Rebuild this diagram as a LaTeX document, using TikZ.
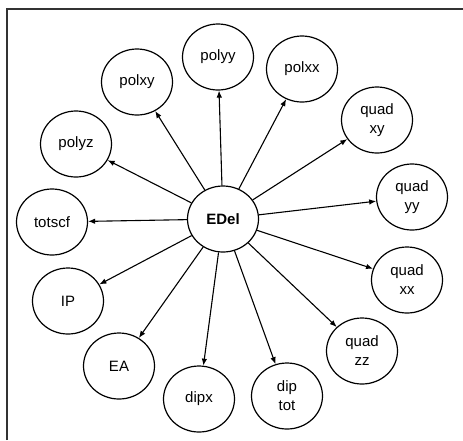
\documentclass[tikz,border=0pt]{standalone}
\usepackage{fontspec}
\setmainfont{Liberation Sans}
\usepackage{tikz}
\usetikzlibrary{shapes,arrows,positioning,calc,arrows.meta}

\begin{document}
\begin{tikzpicture}[
    x=1pt, y=-1pt,
    >={Latex[length=7pt,width=5.5pt]},
    state/.style={ellipse, draw, line width=1.2pt, minimum width=71pt, minimum height=66pt,
                  inner sep=0pt, align=center, font=\fontsize{15}{19}\selectfont},
    hub/.style={state, font=\fontsize{15}{19}\selectfont\bfseries}
]
    \useasboundingbox (0,0) rectangle (463,440);
    \draw[line width=1.2pt, black!80] (7,440) -- (7,9) -- (463,9);

    \node[hub] (EDel) at (223,219) {EDel};

    \node[state] (polyy) at (218,57) {polyy};
    \node[state] (polxy) at (137,82) {polxy};
    \node[state] (polxx) at (302,69) {polxx};
    \node[state] (quadxy) at (377,120) {quad\\xy};
    \node[state] (quadyy) at (412,197) {quad\\yy};
    \node[state] (polyz) at (76,144) {polyz};
    \node[state] (totscf) at (52,222) {totscf};
    \node[state] (IP) at (68,301) {IP};
    \node[state] (EA) at (119,366) {EA};
    \node[state] (dipx) at (199,399) {dipx};
    \node[state] (diptot) at (287,396) {dip\\tot};
    \node[state] (quadzz) at (362,351) {quad\\zz};
    \node[state] (quadxx) at (407,280) {quad\\xx};

    \draw[->, line width=1.1pt] (EDel) -- (polyy);
    \draw[->, line width=1.1pt] (EDel) -- (polxy);
    \draw[->, line width=1.1pt] (EDel) -- (polxx);
    \draw[->, line width=1.1pt] (EDel) -- (quadxy);
    \draw[->, line width=1.1pt] (EDel) -- (quadyy);
    \draw[->, line width=1.1pt] (EDel) -- (polyz);
    \draw[->, line width=1.1pt] (EDel) -- (totscf);
    \draw[->, line width=1.1pt] (EDel) -- (IP);
    \draw[->, line width=1.1pt] (EDel) -- (EA);
    \draw[->, line width=1.1pt] (EDel) -- (dipx);
    \draw[->, line width=1.1pt] (EDel) -- (diptot);
    \draw[->, line width=1.1pt] (EDel) -- (quadzz);
    \draw[->, line width=1.1pt] (EDel) -- (quadxx);
\end{tikzpicture}
\end{document}
